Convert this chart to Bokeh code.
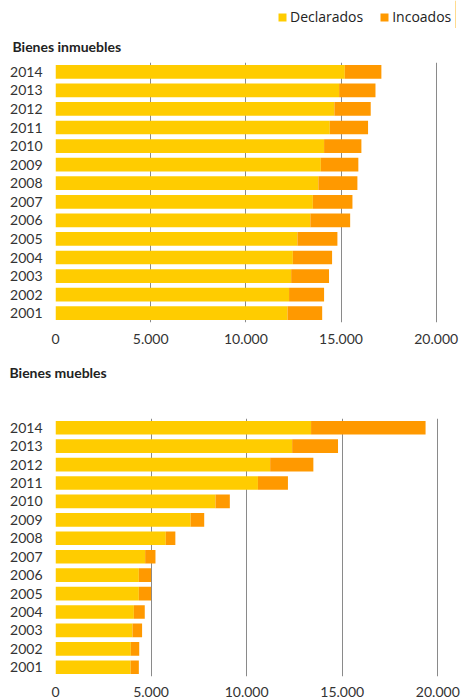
from bokeh.plotting import figure
from bokeh.models import FactorRange, Range1d, FixedTicker, Legend, LegendItem, Title
from bokeh.layouts import column
from bokeh.embed import file_html
from bokeh.resources import INLINE

years = ["2001", "2002", "2003", "2004", "2005", "2006", "2007",
         "2008", "2009", "2010", "2011", "2012", "2013", "2014"]

inm_declarados = [12190, 12270, 12380, 12470, 12710, 13390, 13520,
                  13810, 13940, 14110, 14410, 14650, 14900, 15200]
inm_incoados = [1820, 1840, 1990, 2060, 2100, 2090, 2080,
                2050, 1970, 1960, 2010, 1910, 1910, 1920]

mue_declarados = [3930, 3940, 4030, 4100, 4360, 4360, 4690,
                  5770, 7070, 8370, 10590, 11230, 12380, 13370]
mue_incoados = [430, 440, 500, 570, 640, 640, 540,
                500, 710, 750, 1570, 2260, 2400, 5990]

x_ticks = [0, 5000, 10000, 15000, 20000]
x_tick_labels = ["0", "5.000", "10.000", "15.000", "20.000"]

series = ["Declarados", "Incoados"]
colors = ["#FFCC00", "#FF9900"]
AXIS_FONT = "Lato"
TEXT_COLOR = "#333333"
W = 463
FRAME_LEFT = 55
FRAME_RIGHT = 455


def bare_figure(height):
    f = figure(width=W, height=height, x_range=Range1d(0, 1), y_range=Range1d(0, 1),
               x_axis_type=None, y_axis_type=None,
               output_backend="svg", toolbar_location=None,
               min_border_top=0, min_border_bottom=0,
               min_border_left=FRAME_LEFT, min_border_right=W - FRAME_RIGHT)
    f.outline_line_color = None
    return f


def section_title(text, offset, standoff):
    return Title(text=text, text_font=AXIS_FONT, text_font_style="bold",
                 text_font_size="14px", text_color="#222222",
                 align="left", offset=offset, standoff=standoff)


def make_chart(decl, inc, height, top, bottom, x_end, y_standoff, x_standoff):
    p = figure(width=W, height=height,
               y_range=FactorRange(factors=years, range_padding=0),
               x_range=Range1d(0, x_end),
               output_backend="svg", toolbar_location=None,
               min_border_top=top, min_border_bottom=bottom,
               min_border_left=FRAME_LEFT, min_border_right=W - FRAME_RIGHT)
    src = dict(year=years, Declarados=decl, Incoados=inc)
    rs = p.hbar_stack(series, y="year", height=0.74, fill_color=colors,
                      line_color=None, source=src)

    p.xaxis.ticker = FixedTicker(ticks=x_ticks)
    p.xgrid.ticker = FixedTicker(ticks=x_ticks)
    p.xaxis.major_label_overrides = dict(zip(x_ticks, x_tick_labels))
    for ax in (p.xaxis, p.yaxis):
        ax.axis_line_color = None
        ax.major_tick_line_color = None
        ax.minor_tick_line_color = None
        ax.major_label_text_font = AXIS_FONT
        ax.major_label_text_font_size = "14px"
        ax.major_label_text_color = TEXT_COLOR
    p.yaxis.major_label_standoff = y_standoff
    p.xaxis.major_label_standoff = x_standoff

    p.xgrid.grid_line_color = "#8a8a8a"
    p.xgrid.grid_line_width = 1
    p.ygrid.grid_line_color = None
    p.outline_line_color = None
    return p, rs


# ---- legend strip (page 0..28) ----
H0 = 28
h0 = bare_figure(H0)
# swatch renderers for the legend; their single bar lies outside the strip's ranges
swatches = [h0.vbar(x=[5], top=[5], width=0.1, fill_color=c, line_color=None)
            for c in colors]
legend = Legend(items=[LegendItem(label=s, renderers=[r])
                       for s, r in zip(series, swatches)],
                location=(277 - FRAME_LEFT, 2), orientation="horizontal",
                padding=0, margin=0, spacing=16, label_standoff=3,
                glyph_width=10, glyph_height=10, label_height=14,
                border_line_color=None, background_fill_alpha=0,
                label_text_font="Open Sans", label_text_font_size="14px",
                label_text_color="#222222")
h0.add_layout(legend, "center")

# ---- Bienes inmuebles (page 28..355) ----
P1_H = 355 - H0
p1, rs1 = make_chart(inm_declarados, inm_incoados,
                     height=P1_H, top=62 - H0, bottom=33,
                     x_end=(FRAME_RIGHT - FRAME_LEFT) / 380.7 * 20000,
                     y_standoff=7, x_standoff=5)
p1.add_layout(section_title("Bienes inmuebles", 12 - FRAME_LEFT, 15), "above")

# ---- heading strip for the second chart (page 355..395) ----
H2 = 40
h2 = bare_figure(H2)
h2.add_layout(section_title("Bienes muebles", 9 - FRAME_LEFT, 13), "above")

# ---- Bienes muebles (page 395..700) ----
P2_TOP = 355 + H2
p2, rs2 = make_chart(mue_declarados, mue_incoados,
                     height=700 - P2_TOP, top=418 - P2_TOP, bottom=24,
                     x_end=(FRAME_RIGHT - FRAME_LEFT) / 382.3 * 20000,
                     y_standoff=7, x_standoff=4)

layout = column(h0, p1, h2, p2)
open("out.html", "w").write(file_html(layout, INLINE))
